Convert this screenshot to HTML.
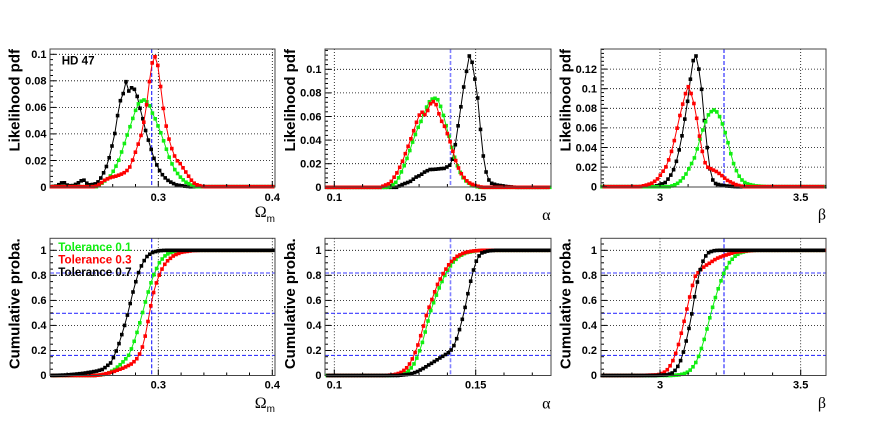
<!DOCTYPE html>
<html><head><meta charset="utf-8">
<style>
html,body{margin:0;padding:0;background:#fff;}
svg{display:block;}
.tl{font-family:"Liberation Sans",Arial,sans-serif;font-weight:bold;font-size:11px;fill:#000;}
.yt{font-family:"Liberation Sans",Arial,sans-serif;font-weight:bold;font-size:15px;fill:#000;}
.gr{font-family:"Liberation Serif","DejaVu Serif",serif;font-size:16px;fill:#000;}
.lg{font-family:"Liberation Sans",Arial,sans-serif;font-weight:bold;font-size:11.6px;}
</style></head><body>
<svg id="c" width="876" height="426" xmlns="http://www.w3.org/2000/svg">
<rect width="876" height="426" fill="#fff"/>
<g id="plots"></g>

<!-- Y tick labels top -->
<g class="tl" text-anchor="end">
<text x="46.5" y="190.8">0</text><text x="46.5" y="164.3">0.02</text><text x="46.5" y="137.7">0.04</text><text x="46.5" y="111.2">0.06</text><text x="46.5" y="84.6">0.08</text><text x="46.5" y="58.1">0.1</text>
<text x="321.5" y="191.1">0</text><text x="321.5" y="167.5">0.02</text><text x="321.5" y="143.9">0.04</text><text x="321.5" y="120.3">0.06</text><text x="321.5" y="96.7">0.08</text><text x="321.5" y="73.1">0.1</text>
<text x="597" y="190.5">0</text><text x="597" y="170.9">0.02</text><text x="597" y="151.3">0.04</text><text x="597" y="131.7">0.06</text><text x="597" y="112.1">0.08</text><text x="597" y="92.5">0.1</text><text x="597" y="72.9">0.12</text>
</g>
<!-- Y tick labels bottom -->
<g class="tl" text-anchor="end">
<text x="46.5" y="379.1">0</text><text x="46.5" y="354.2">0.2</text><text x="46.5" y="329.2">0.4</text><text x="46.5" y="304.2">0.6</text><text x="46.5" y="279.1">0.8</text><text x="46.5" y="254.2">1</text>
<text x="321.5" y="379.1">0</text><text x="321.5" y="354.2">0.2</text><text x="321.5" y="329.2">0.4</text><text x="321.5" y="304.2">0.6</text><text x="321.5" y="279.1">0.8</text><text x="321.5" y="254.2">1</text>
<text x="597" y="379.1">0</text><text x="597" y="354.2">0.2</text><text x="597" y="329.2">0.4</text><text x="597" y="304.2">0.6</text><text x="597" y="279.1">0.8</text><text x="597" y="254.2">1</text>
</g>
<!-- X tick labels -->
<g class="tl" text-anchor="middle">
<text x="158.3" y="201">0.3</text><text x="272.3" y="201">0.4</text>
<text x="334.3" y="201">0.1</text><text x="475.7" y="201">0.15</text>
<text x="660" y="201">3</text><text x="800.7" y="201">3.5</text>
<text x="158.3" y="388.5">0.3</text><text x="272.3" y="388.5">0.4</text>
<text x="334.3" y="388.5">0.1</text><text x="475.7" y="388.5">0.15</text>
<text x="660" y="388.5">3</text><text x="800.7" y="388.5">3.5</text>
</g>
<!-- Y titles -->
<g class="yt" text-anchor="end">
<text transform="translate(19.5,49) rotate(-90)">Likelihood pdf</text>
<text transform="translate(295,49) rotate(-90)">Likelihood pdf</text>
<text transform="translate(570.5,49) rotate(-90)">Likelihood pdf</text>
<text transform="translate(19.5,238.3) rotate(-90)">Cumulative proba.</text>
<text transform="translate(295,238.3) rotate(-90)">Cumulative proba.</text>
<text transform="translate(570.5,238.3) rotate(-90)">Cumulative proba.</text>
</g>
<!-- X titles -->
<text class="gr" x="275" y="217" text-anchor="end" font-size="14"><tspan>Ω</tspan><tspan font-family="Liberation Sans" font-size="10" dy="5">m</tspan></text>
<text class="gr" x="275" y="408" text-anchor="end" font-size="14"><tspan>Ω</tspan><tspan font-family="Liberation Sans" font-size="10" dy="4">m</tspan></text>
<text class="gr" x="550.5" y="220" text-anchor="end">α</text>
<text class="gr" x="550.5" y="408.3" text-anchor="end">α</text>
<text class="gr" x="826" y="219.5" text-anchor="end">β</text>
<text class="gr" x="826" y="408" text-anchor="end">β</text>
<!-- labels -->
<text class="lg" x="61.7" y="64.5" fill="#000" font-size="11.5">HD 47</text>
<text class="lg" x="58.3" y="251" fill="#11ee11">Tolerance 0.1</text>
<text class="lg" x="58.3" y="263.5" fill="#ff0000">Tolerance 0.3</text>
<text class="lg" x="58.3" y="276" fill="#000">Tolerance 0.7</text>
</svg>
<script>
(function(){
var G='#11ee11',R='#ff0000',K='#000000';
var MS=3.6;
function lin(p,x){var n=p.length;if(x<=p[0][0])return p[0][1];if(x>=p[n-1][0])return p[n-1][1];
for(var i=1;i<n;i++){if(x<=p[i][0]){var a=p[i-1],b=p[i];return a[1]+(b[1]-a[1])*(x-a[0])/(b[0]-a[0]);}}return p[n-1][1];}
function series(p,col,x0,x1,anc,cum,z,o){var s=2.8;var st=anc;while(st-s>=x0+1)st-=s;var pts=[];
for(var x=st;x<=x1-1;x+=s){var v=lin(p,x);var y=cum?(z-v*(z-o)):v;pts.push([x,y]);}
var str='<polyline fill="none" stroke="'+col+'" stroke-width="1" points="'+pts.map(function(q){return q[0].toFixed(1)+','+q[1].toFixed(1);}).join(' ')+'"/>';
pts.forEach(function(q){str+='<rect x="'+(q[0]-MS/2).toFixed(1)+'" y="'+(q[1]-MS/2).toFixed(1)+'" width="'+MS+'" height="'+MS+'" fill="'+col+'"/>';});
return str;}
function L(x1,y1,x2,y2,st){return '<line x1="'+x1.toFixed(1)+'" y1="'+y1.toFixed(1)+'" x2="'+x2.toFixed(1)+'" y2="'+y2.toFixed(1)+'" '+st+'/>';}
var grid='stroke="#000" stroke-width="0.8" stroke-dasharray="1,2"';
var tk='stroke="#000" stroke-width="1"';
function under(P){var s='';
P.xMaj.forEach(function(x){if(x>P.x0+1&&x<P.x1-1)s+=L(x,P.y0,x,P.y1,grid);});
P.yMaj.forEach(function(y){if(y>P.y0+1&&y<P.y1-1)s+=L(P.x0,y,P.x1,y,grid);});
return s;}
function over(P){var s='';
var m=P.xMaj[0],st=P.xStep,x;
for(x=m;x>=P.x0-0.1;x-=st){}x+=st;
for(;x<=P.x1+0.1;x+=st){var maj=P.xMaj.some(function(v){return Math.abs(v-x)<1;});s+=L(x,P.y1,x,P.y1-(maj?6:3),tk);}
var my=P.yMaj[0],sy=P.yStep,y;
for(y=my;y>=P.y0-0.1;y-=sy){}y+=sy;
for(;y<=P.y1+0.1;y+=sy){var maj2=P.yMaj.some(function(v){return Math.abs(v-y)<1;});s+=L(P.x0,y,P.x0+(maj2?6:3),y,tk);}
s+='<rect x="'+P.x0+'" y="'+P.y0+'" width="'+(P.x1-P.x0)+'" height="'+(P.y1-P.y0)+'" fill="none" stroke="#444" stroke-width="1"/>';
return s;}
function blueV(x,P,light){return L(x,P.y0,x,P.y1,light?'stroke="#8080ff" stroke-width="1.6" stroke-dasharray="4,2"':'stroke="#1f1fff" stroke-width="1.1" stroke-dasharray="4,2"');}
function blueH(y,P){return L(P.x0,y,P.x1,y,'stroke="#3a3aff" stroke-width="1.1" stroke-dasharray="4,2"');}
var bY=[375.5,350.46,325.42,300.38,275.34,250.3];
var P1={x0:50,x1:275,y0:49,y1:187,xMaj:[158.3,272.3],xStep:22.8,yMaj:[187,160.46,133.92,107.38,80.84,54.3],yStep:5.308};
var P2={x0:325,x1:551,y0:49,y1:187,xMaj:[334.3,475.7],xStep:28.28,yMaj:[187.3,163.7,140.1,116.5,92.9,69.3],yStep:4.72};
var P3={x0:601,x1:826,y0:49,y1:187,xMaj:[660,800.7],xStep:28.14,yMaj:[186.7,167.1,147.5,127.9,108.3,88.7,69.1],yStep:3.92};
var B1={x0:50,x1:275,y0:238.3,y1:375.5,xMaj:[158.3,272.3],xStep:22.8,yMaj:bY,yStep:6.26};
var B2={x0:325,x1:551,y0:238.3,y1:375.5,xMaj:[334.3,475.7],xStep:28.28,yMaj:bY,yStep:6.26};
var B3={x0:601,x1:826,y0:238.3,y1:375.5,xMaj:[660,800.7],xStep:28.14,yMaj:bY,yStep:6.26};
var out='';
[P1,P2,P3,B1,B2,B3].forEach(function(P){out+=under(P);});
out+=blueV(151.7,P1)+blueV(450.5,P2,true)+blueV(724,P3);
out+=blueV(151.7,B1)+blueV(450.5,B2,true)+blueV(724,B3);
[B1,B2,B3].forEach(function(P){out+=blueH(273,P)+blueH(313.3,P)+blueH(355.4,P);});

var tlK=[[50,186.7],[56.7,186],[60,184],[63.3,181.7],[66.7,185],[71.7,186],[76.7,184],[80,181.7],[83.3,179.3],[86,182.7],[90,185],[95,184],[98.3,181.7],[101.7,176.7],[105,170],[108.3,161.7],[111,150],[114.3,136.7],[117.3,117.3],[120,101.7],[123.3,93.3],[126,81.7],[128.3,91.7],[130.7,88.3],[132.7,87.3],[135,90],[137.3,96.7],[140,108.3],[142.7,118.3],[145,128.3],[147.3,136.7],[150,145],[152.7,155],[156,163.3],[159.3,170],[163.3,176],[167.3,180],[171.7,182.7],[176.7,185],[183.3,186],[190,186.7]];
var tlG=[[96.7,186.7],[101.7,183.3],[106,180],[110,176.7],[114,170],[118.3,161.7],[121.7,151.7],[125,141.7],[128.3,131.7],[131.7,121.7],[135,111.7],[138.3,104],[141.7,100.7],[144,100],[146.7,101.7],[149.3,105],[151.7,111.7],[155,118.3],[158.3,126.7],[161.7,135],[165,145],[168.3,155],[171.7,163.3],[175,170],[180,176.7],[185,181.7],[190,184.3],[195,186.7]];
var tlR=[[95,186.7],[100,184],[105,180],[110,177.7],[116.7,176],[121.7,174],[126,171.7],[130,166.7],[133.3,158.3],[137.3,146.7],[140.7,136.7],[143.3,125],[146,110],[148.3,90],[150.7,71.7],[152.7,60],[155,56.7],[157.3,61.7],[160,81.7],[162.7,103.3],[165,120],[168.3,136.7],[171.7,148.3],[174,155],[177.3,160.7],[180,163.3],[183.3,168.3],[186.7,173.3],[190,178.3],[193.3,182.7],[197.3,185],[203.3,186.7]];
out+=series(tlK,K,50,275,126,false)+series(tlG,G,50,275,144,false)+series(tlR,R,50,275,155,false);

var tmK=[[396.7,187.3],[403.3,184],[410,181.7],[416.7,176.7],[420,175.5],[425,171.7],[430,169.5],[435,169.3],[440,168.7],[445,168.3],[450,165],[452.3,160],[454.3,151.7],[456.7,135],[460,113.3],[463.3,89.3],[466,74],[469.3,56],[471.7,60],[474.3,75],[478,100],[480.7,131.7],[483.3,156],[486,171.7],[488.3,179.3],[491.7,183.3],[496.7,185],[506.7,186.5],[515,187.3]];
var tmG=[[386,187.3],[390,186.7],[396.7,181.7],[403.3,168],[408.3,155],[413.3,140],[418.3,127],[421.7,120],[425,111],[428.3,103],[431.7,99.3],[435,98.3],[438.3,100],[440.7,106.7],[443.3,115],[446,125],[448.3,133.3],[450.7,143.3],[453.3,153.3],[456,161.7],[458.3,168.3],[460.7,173.3],[463.3,178.3],[466.7,181.7],[470,184],[475,186.3],[480,187.3]];
var tmR=[[380,187.3],[383.3,186],[390,183.3],[396.7,173.3],[401.7,163.3],[406.7,150],[411.7,136.7],[416.7,121.7],[420,113.3],[423.3,111.7],[426,116.7],[428.3,108.3],[430.7,103.3],[433.3,101.7],[435.7,103.3],[438.3,111.7],[440.7,120],[443.3,123.3],[446,130],[449,138.3],[451.7,146.7],[454.3,156.7],[457.3,165],[460,171.7],[463.3,176.7],[466.7,180.7],[470,183.3],[475,185.5],[482,187.3]];
out+=series(tmK,K,325,551,469.3,false)+series(tmG,G,325,551,435,false)+series(tmR,R,325,551,433.3,false);

var trR=[[640,186.7],[646.7,185],[651.7,183.3],[656.7,180],[661.7,173.3],[666,166.7],[670,156.7],[673.3,145],[676.7,130],[680,115],[683.3,101.7],[686,91.7],[688.3,86.7],[691.7,95],[694.3,105],[696.7,118.3],[699,133.3],[701.7,148.3],[704,160],[706.7,166.7],[710,168.3],[713.3,170],[716.7,171.7],[720,174],[723.3,176.7],[726.7,180],[731.7,182.7],[736.7,185],[743.3,186.7]];
var trK=[[653.3,186.7],[660,185],[665,182.7],[670,176.7],[674.3,168.3],[677.3,158.3],[680.7,143.3],[683.3,128.3],[686,111.7],[688.3,96.7],[690.7,76.7],[693.3,60],[696,56],[699,70],[701.7,90],[704,116.7],[706.7,143.3],[709,163.3],[711.7,178.3],[715,183.3],[720,185],[726.7,186],[736.7,186.7]];
var trG=[[670,186.7],[676.7,184],[681.7,180],[686,174],[690,166.7],[695,156.7],[698.3,145],[701.7,133.3],[705,123.3],[708.3,115],[711.7,111],[714,110],[716.7,111.7],[720,117.3],[724,128.3],[727.3,140],[730.7,153.3],[734,165],[738.3,175],[743.3,181.7],[748.3,184.3],[756.7,186],[766.7,186.7]];
out+=series(trK,K,601,826,696,false)+series(trG,G,601,826,714,false)+series(trR,R,601,826,688.3,false);

var Z=375.5,O=250.3;
var blK=[[50,0],[66.7,0.004],[83,0.017],[96.7,0.035],[103,0.05],[110.6,0.1],[114.5,0.16],[118.8,0.25],[123.9,0.38],[128,0.5],[131.5,0.62],[134.7,0.72],[138.5,0.82],[142.7,0.9],[146.9,0.95],[151.6,0.98],[157.7,0.995],[165,1]];
var blG=[[95,0],[101,0.005],[106,0.013],[110,0.025],[115,0.05],[120,0.085],[125,0.125],[129,0.165],[133.3,0.25],[138.4,0.38],[142.5,0.5],[146.5,0.62],[150.1,0.72],[154.5,0.82],[159.3,0.9],[164,0.95],[169.4,0.98],[176.3,0.995],[184,1]];
var blR=[[95,0],[102,0.006],[108,0.018],[113.3,0.03],[118,0.045],[123.3,0.06],[128,0.078],[132,0.095],[136,0.125],[139,0.16],[142.5,0.23],[146,0.34],[149.5,0.5],[152.5,0.63],[155.5,0.72],[160,0.82],[164,0.88],[168,0.92],[174,0.96],[182,0.985],[192,0.997],[200,1]];
out+=series(blG,G,50,275,142.6,true,Z,O)+series(blR,R,50,275,153.6,true,Z,O)+series(blK,K,50,275,124.6,true,Z,O);
var bmR=[[385,0],[393.5,0.005],[400.3,0.02],[405.6,0.05],[410.3,0.1],[414,0.16],[418.2,0.25],[423,0.38],[427,0.5],[432.5,0.62],[437,0.72],[443.5,0.82],[450,0.9],[456.6,0.95],[464,0.98],[473,0.995],[482,1]];
var bmG=[[390,0],[399,0.005],[405.4,0.02],[410.3,0.05],[414.6,0.1],[418,0.16],[421.9,0.25],[426.3,0.38],[430,0.5],[435.3,0.62],[440.2,0.72],[446,0.82],[452.4,0.9],[458.8,0.95],[465.9,0.98],[475,0.995],[485,1]];
var bmK=[[398,0],[410,0.01],[417,0.03],[424,0.06],[430,0.09],[437,0.125],[443,0.155],[450,0.19],[454,0.24],[457,0.3],[460,0.38],[464,0.5],[467,0.62],[470,0.73],[472.7,0.82],[475.5,0.9],[478.5,0.95],[482,0.98],[488,0.995],[495,1]];
out+=series(bmG,G,325,551,433.6,true,Z,O)+series(bmR,R,325,551,431.9,true,Z,O)+series(bmK,K,325,551,467.9,true,Z,O);
var brK=[[655,0],[667.2,0.005],[672.3,0.02],[676.2,0.05],[679.7,0.1],[682.5,0.16],[685.5,0.25],[689.1,0.38],[692,0.5],[694.4,0.62],[696.7,0.72],[699.3,0.82],[702.2,0.9],[705.2,0.95],[708.4,0.98],[712.6,0.995],[718,1]];
var brR=[[640,0],[657.6,0.005],[663.4,0.02],[667.9,0.05],[671.9,0.1],[675,0.16],[678.6,0.25],[682.6,0.38],[686,0.5],[689.5,0.62],[692.5,0.72],[695,0.79],[700,0.84],[705,0.875],[710,0.9],[716.7,0.935],[725,0.96],[735,0.985],[746,0.995],[755,1]];
var brG=[[670,0],[680,0.005],[686.4,0.02],[691.3,0.05],[695.6,0.1],[699,0.16],[702.9,0.25],[707.3,0.38],[711,0.5],[715.3,0.62],[719.3,0.72],[724,0.82],[729.2,0.9],[734.4,0.95],[740.1,0.98],[747.6,0.995],[756,1]];
out+=series(brG,G,601,826,712.6,true,Z,O)+series(brR,R,601,826,686.9,true,Z,O)+series(brK,K,601,826,694.6,true,Z,O);

[P1,P2,P3,B1,B2,B3].forEach(function(P){out+=over(P);});
document.getElementById('plots').innerHTML=out;
})();
</script>
</body></html>
